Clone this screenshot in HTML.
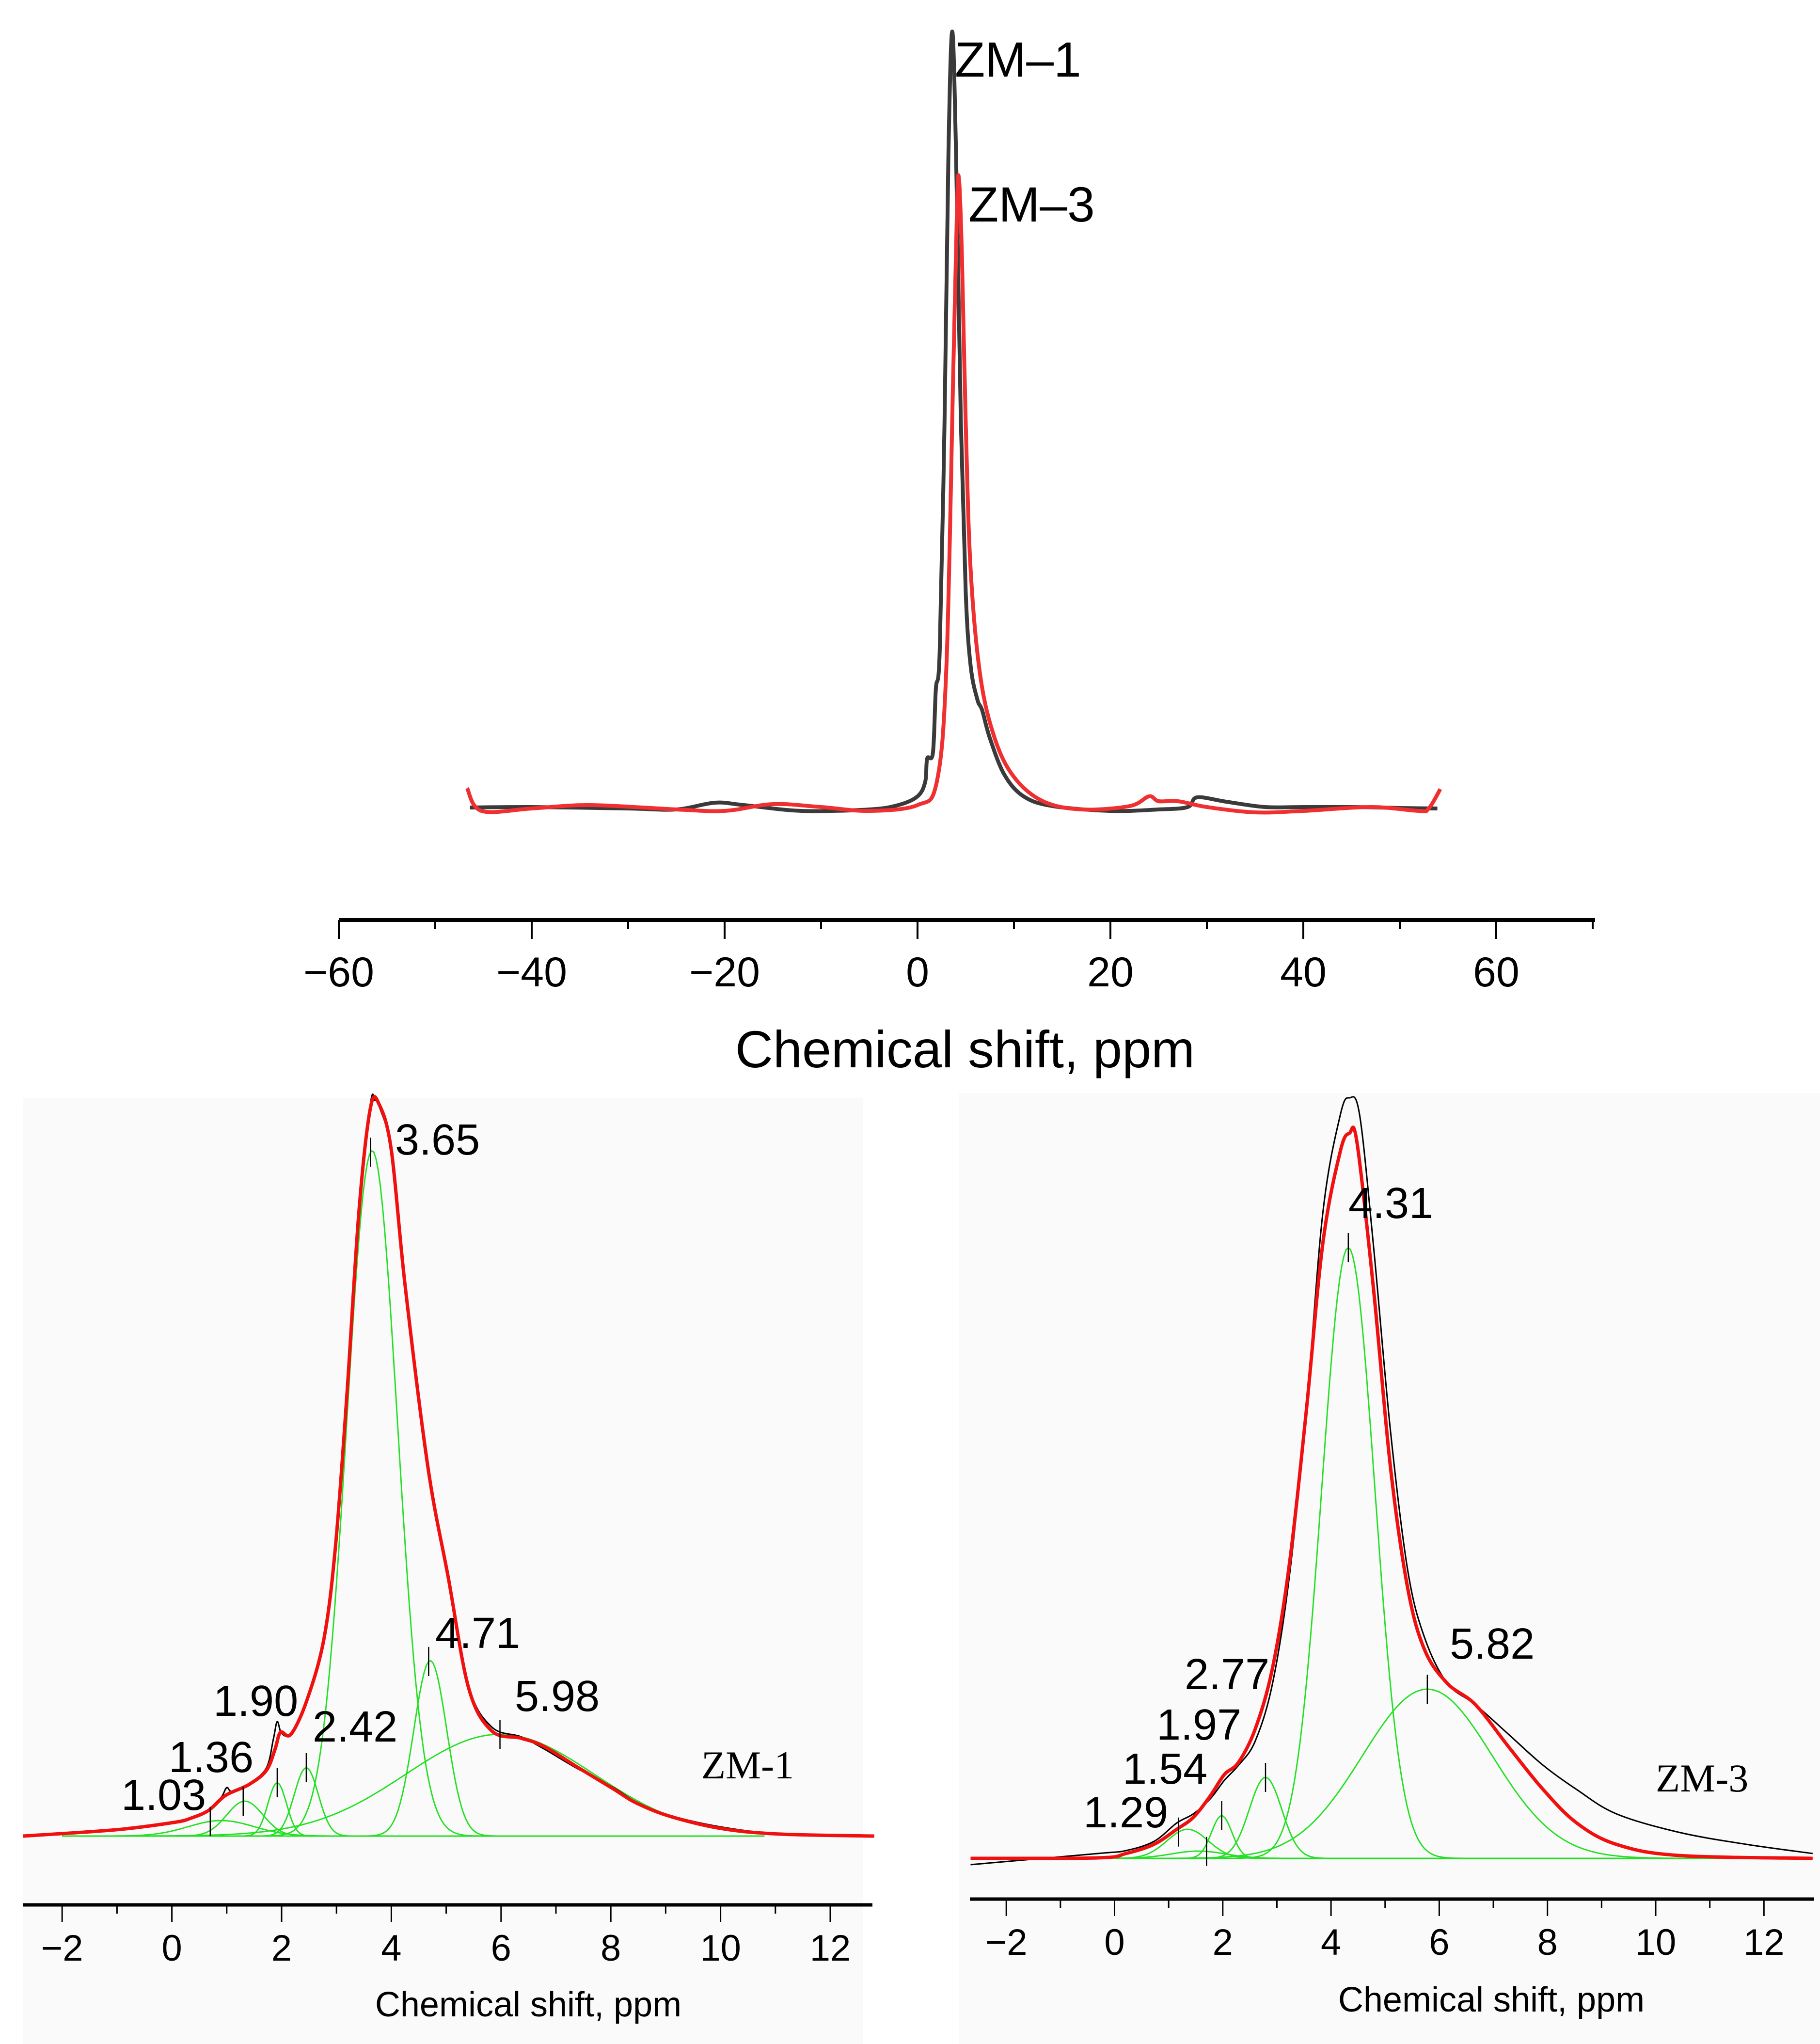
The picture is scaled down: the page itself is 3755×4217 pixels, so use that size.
<!DOCTYPE html>
<html><head><meta charset="utf-8"><style>
html,body{margin:0;padding:0;background:#fff}
svg{display:block}
text{font-family:"Liberation Sans",sans-serif}
</style></head><body>
<svg id="fig" width="3755" height="4217" viewBox="0 0 3755 4217" xmlns="http://www.w3.org/2000/svg">
<rect width="3755" height="4217" fill="#fff"/>
<rect x="48" y="2265" width="1732" height="1952" fill="#fafafa"/>
<rect x="1978" y="2255" width="1777" height="1962" fill="#fafafa"/>
<g id="top"></g>
<g id="left"></g>
<g id="right"></g>
</svg>
<script>
// ---- Top chart data (ppm, intensity) ----
const topZM1Ppm = [-46.4,-40,-30,-25,-21,-18,-12,-5,-2,0,0.8,1.0,1.6,1.9,2.3,2.8,3.2,3.6,4.0,4.5,5.0,5.5,6.2,6.7,7.5,9,11,14,20,25,28,29,32,36,40,45,50,53.9];
const topZM1Val = [7,8,5,3,17,12,0,3,12,30,60,108,120,251,330,800,1350,1608,1350,800,450,300,230,208,150,75,30,10,0,3,8,28,19,8,8,8,6,5];
const topZM3Ppm = [-46.7,-45.2,-40,-34,-25,-20,-15,-10,-5,0,2,3,3.7,4.1,4.3,4.6,5.0,5.5,6.5,8,10,13,17,22,24,25,27,30,35,40,47,52,53,54.2];
const topZM3Val = [47,0,5,12,3,0,14,8,0,12,60,300,900,1250,1303,1150,800,500,280,150,70,20,3,10,30,20,20,8,-3,0,8,0,5,45];
const topTicks = [-60,-40,-20,0,20,40,60];
const topTickLabels = ["−60","−40","−20","0","20","40","60"];
// ---- ZM-1 deconvolution data ----
const zm1RedPpm = [-2.71,-1.02,0.03,0.35,0.67,0.98,1.40,1.72,1.88,1.98,2.17,2.46,2.77,2.98,3.19,3.41,3.62,3.78,4.0,4.25,4.67,5.04,5.41,5.83,6.36,6.78,7.41,8.05,8.47,9.10,10.05,11.1,12.8];
const zm1RedVal = [0,13,28,37,53,84,106,135,179,214,210,280,406,595,910,1289,1503,1509,1415,1137,759,532,305,217,202,185,141,97,68,40,15,4,0];
const zm1BlackPpm = [-2.71,-1.02,0.03,0.35,0.67,0.9,1.0,1.1,1.40,1.72,1.85,1.92,2.0,2.17,2.46,2.77,2.98,3.19,3.41,3.62,3.7,3.78,4.0,4.25,4.67,5.04,5.41,5.83,6.36,6.78,7.41,8.05,8.47,9.10,10.05,11.1,12.8];
const zm1BlackVal = [0,13,28,37,55,80,100,92,108,140,200,236,212,212,282,410,600,915,1295,1512,1518,1505,1410,1130,765,540,310,225,205,180,138,100,70,42,18,5,0];
const zm1CompCenter = [0.9,1.33,1.92,2.45,3.65,4.71,5.98];
const zm1CompHeight = [32,72,110,141,1414,362,210];
const zm1CompSigma = [0.6,0.33,0.17,0.22,0.46,0.3,1.72];
const zm1Labels = ["1.03","1.36","1.90","2.42","3.65","4.71","5.98"];
const zm1MarkPpm = [0.7,1.3,1.92,2.45,3.62,4.68,5.98];
// ---- ZM-3 deconvolution data ----
const zm3RedPpm = [-2.66,-0.31,0.21,0.73,1.15,1.46,1.77,2.03,2.29,2.60,2.92,3.23,3.54,3.85,4.17,4.34,4.48,4.79,5.1,5.42,5.73,6.15,6.67,7.29,7.92,8.54,9.27,10.42,12.9];
const zm3RedVal = [0,1,10,29,60,85,129,173,198,267,393,606,919,1270,1458,1496,1477,1170,806,556,430,361,317,229,142,73,29,6,0];
const zm3BlackPpm = [-2.66,-0.31,0.21,0.73,1.15,1.46,1.77,2.03,2.29,2.60,2.92,3.23,3.54,3.85,4.17,4.34,4.53,4.79,5.1,5.42,5.73,6.15,6.67,7.29,7.92,8.54,9.27,10.42,11.67,12.9];
const zm3BlackVal = [-13,10,16,35,73,92,123,161,192,242,361,581,919,1333,1533,1569,1533,1258,881,593,455,361,317,255,192,142,92,54,29,10];
const zm3CompCenter = [1.35,1.55,1.98,2.79,4.32,5.78];
const zm3CompHeight = [60,15,88,167,1260,349];
const zm3CompSigma = [0.38,0.5,0.19,0.3,0.49,1.2];
const zm3Labels = ["1.29","1.54","1.97","2.77","4.31","5.82"];
const zm3MarkPpm = [1.18,1.7,1.98,2.79,4.32,5.78];
const smallTicks = [-2,0,2,4,6,8,10,12];
const smallTickLabels = ["−2","0","2","4","6","8","10","12"];

const NS="http://www.w3.org/2000/svg";
function mk(parent,tag,attrs){const e=document.createElementNS(NS,tag);for(const k in attrs)e.setAttribute(k,attrs[k]);parent.appendChild(e);return e;}
function smooth(pts){let d="M"+pts[0][0].toFixed(1)+","+pts[0][1].toFixed(1);
 for(let i=0;i<pts.length-1;i++){const p0=pts[Math.max(0,i-1)],p1=pts[i],p2=pts[i+1],p3=pts[Math.min(pts.length-1,i+2)];
  const c1=[p1[0]+(p2[0]-p0[0])/6,p1[1]+(p2[1]-p0[1])/6],c2=[p2[0]-(p3[0]-p1[0])/6,p2[1]-(p3[1]-p1[1])/6];
  d+="C"+c1[0].toFixed(1)+","+c1[1].toFixed(1)+" "+c2[0].toFixed(1)+","+c2[1].toFixed(1)+" "+p2[0].toFixed(1)+","+p2[1].toFixed(1);}
 return d;}

// ---------- TOP ----------
const gT=document.getElementById('top');
const xT=p=>1893+19.9*p, yT=v=>1673-v;
let pth=mk(gT,'path',{d:smooth(topZM1Ppm.map((p,i)=>[xT(p),yT(topZM1Val[i])])),fill:'none',stroke:'#3a3a3a','stroke-width':8,'stroke-linejoin':'round'});


pth=mk(gT,'path',{d:smooth(topZM3Ppm.map((p,i)=>[xT(p),yT(topZM3Val[i])])),fill:'none',stroke:'#f03030','stroke-width':8,'stroke-linejoin':'round'});


let t=mk(gT,'text',{x:1970,y:158,'font-size':102,fill:'#000'});t.textContent="ZM–1";


t=mk(gT,'text',{x:1998,y:457,'font-size':102,fill:'#000'});t.textContent="ZM–3";


let ax=mk(gT,'line',{x1:699,x2:3291,y1:1898,y2:1898,stroke:'#000','stroke-width':8});


for(let v=-60;v<=70;v+=10){const major=(v%20===0);const l=mk(gT,'line',{x1:xT(v),x2:xT(v),y1:1898,y2:major?1937:1917,stroke:'#000','stroke-width':4});
 
 }
topTicks.forEach((v,i)=>{const tl=mk(gT,'text',{x:xT(v),y:2035,'font-size':86,'text-anchor':'middle'});tl.textContent=topTickLabels[i];
 
 });
t=mk(gT,'text',{x:1991,y:2202,'font-size':108,'text-anchor':'middle'});t.textContent="Chemical shift, ppm";



// ---------- Deconvolution panels ----------
function panel(g,x0,ppu,yb,axisY,axL,axR,lblBase,titleX,titleY,redP,redV,blkP,blkV,cC,cH,cS,labels,labelPos,markP,name,namePos,compRange){
 const X=p=>x0+ppu*p, Y=v=>yb-v;
 cC.forEach((c,i)=>{const pts=[];for(let p=compRange[0];p<=compRange[1]+1e-9;p+=0.04){pts.push([X(p),Y(cH[i]*Math.exp(-((p-c)*(p-c))/(2*cS[i]*cS[i])))]);}
  const e=mk(g,'path',{d:"M"+pts.map(q=>q[0].toFixed(1)+","+q[1].toFixed(1)).join("L"),fill:'none',stroke:'#22e022','stroke-width':2.8});
  
  });
 let e=mk(g,'path',{d:smooth(blkP.map((p,i)=>[X(p),Y(blkV[i])])),fill:'none',stroke:'#000','stroke-width':3});
 
 
 e=mk(g,'path',{d:smooth(redP.map((p,i)=>[X(p),Y(redV[i])])),fill:'none',stroke:'#f01010','stroke-width':7,'stroke-linejoin':'round'});
 
 
 markP.forEach((p,i)=>{const idx=i;const h=cH[idx]*Math.exp(-((p-cC[idx])**2)/(2*cS[idx]**2));
  const m=mk(g,'line',{x1:X(p),x2:X(p),y1:Y(h)-30,y2:Y(h)+30,stroke:'#000','stroke-width':2.5});
  
  });
 labels.forEach((s,i)=>{const tx=mk(g,'text',{x:labelPos[i][0],y:labelPos[i][1],'font-size':90});tx.textContent=s;
  
  });
 const nm=mk(g,'text',{x:namePos[0],y:namePos[1],'font-size':82,style:'font-family:"Liberation Serif",serif'});nm.textContent=name;
 
 
 const a=mk(g,'line',{x1:axL,x2:axR,y1:axisY,y2:axisY,stroke:'#000','stroke-width':7});
 
 
 for(let v=-3;v<=13;v++){const xx=X(v);if(xx<axL||xx>axR)continue;const major=(v%2===0);
  const l=mk(g,'line',{x1:xx,x2:xx,y1:axisY,y2:axisY+(major?35:18),stroke:'#000','stroke-width':3});
  
  }
 smallTicks.forEach((v,i)=>{const tl=mk(g,'text',{x:X(v),y:lblBase,'font-size':76,'text-anchor':'middle'});tl.textContent=smallTickLabels[i];
  
  });
 const tt=mk(g,'text',{x:titleX,y:titleY,'font-size':72,'text-anchor':'middle'});tt.textContent="Chemical shift, ppm";
 
 
}
panel(document.getElementById('left'),354.6,113.2,3788,3930,48,1800,4045,1090,4160,
 zm1RedPpm,zm1RedVal,zm1BlackPpm,zm1BlackVal,zm1CompCenter,zm1CompHeight,zm1CompSigma,zm1Labels,
 [[250,3734],[348,3656],[440,3540],[645,3593],[815,2382],[898,3400],[1062,3530]],zm1MarkPpm,"ZM-1",[1447,3669],[-2,10.8]);
panel(document.getElementById('right'),2299.5,111.65,3834,3918,2001,3743,4033,3077,4150,
 zm3RedPpm,zm3RedVal,zm3BlackPpm,zm3BlackVal,zm3CompCenter,zm3CompHeight,zm3CompSigma,zm3Labels,
 [[2235,3770],[2316,3680],[2386,3589],[2444,3485],[2782,2513],[2991,3422]],zm3MarkPpm,"ZM-3",[3416,3696],[0,11.2]);
</script>
</body></html>
